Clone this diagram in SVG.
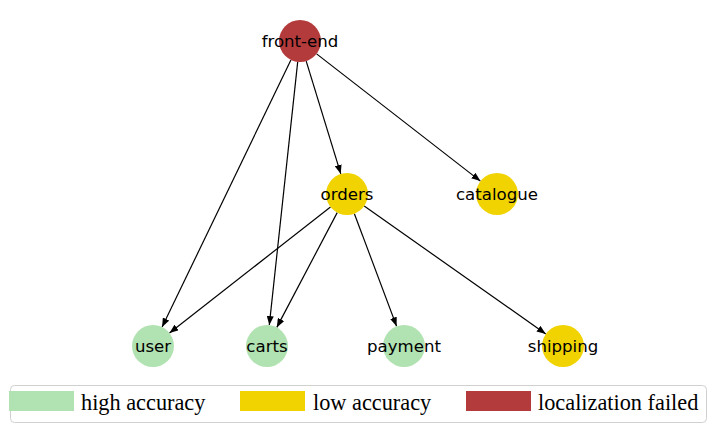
<svg xmlns="http://www.w3.org/2000/svg" width="716" height="433" viewBox="0 0 716 433">
<style>
.e{stroke:#000;stroke-width:1.2;fill:none;marker-end:url(#ah)}
.lbl{font-family:"DejaVu Sans",sans-serif;font-size:16.6px;fill:#000;text-anchor:middle;dominant-baseline:central}
.leg{font-family:"Liberation Serif",serif;font-size:22.3px;fill:#000}
.hi{fill:#b1e2b1}.lo{fill:#f0d300}.fail{fill:#b43b3c}
</style>
<defs>
<marker id="ah" markerUnits="userSpaceOnUse" markerWidth="9" markerHeight="7" refX="9" refY="3.5" orient="auto">
<path d="M0,0 L9,3.5 L0,7 z" fill="#000"/>
</marker>
</defs>
<rect width="716" height="433" fill="#fff"/>
<g id="connectors">
<line class="e" x1="290.9" y1="59.9" x2="162.1" y2="327.1"/>
<line class="e" x1="297.7" y1="61.9" x2="269.3" y2="325.1"/>
<line class="e" x1="306.2" y1="61.1" x2="340.8" y2="173.9"/>
<line class="e" x1="316.6" y1="53.9" x2="480.4" y2="181.1"/>
<line class="e" x1="330.5" y1="207" x2="169.5" y2="333"/>
<line class="e" x1="337.2" y1="212.6" x2="276.8" y2="327.4"/>
<line class="e" x1="354.4" y1="213.7" x2="396.6" y2="326.3"/>
<line class="e" x1="364.2" y1="206.1" x2="545.8" y2="333.9"/>
</g>
<g id="front-end"><circle class="fail" cx="300" cy="41" r="21"/><text class="lbl" x="300" y="41">front-end</text></g>
<g id="orders"><circle class="lo" cx="347" cy="194" r="21"/><text class="lbl" x="347" y="194">orders</text></g>
<g id="catalogue"><circle class="lo" cx="497" cy="194" r="21"/><text class="lbl" x="497" y="194">catalogue</text></g>
<g id="user"><circle class="hi" cx="153" cy="346" r="21"/><text class="lbl" x="153" y="346">user</text></g>
<g id="carts"><circle class="hi" cx="267" cy="346" r="21"/><text class="lbl" x="267" y="346">carts</text></g>
<g id="payment"><circle class="hi" cx="404" cy="346" r="21"/><text class="lbl" x="404" y="346">payment</text></g>
<g id="shipping"><circle class="lo" cx="563" cy="346" r="21"/><text class="lbl" x="563" y="346">shipping</text></g>
<g id="legend">
<rect x="10.5" y="385.5" width="696" height="37" rx="4" fill="#fff" stroke="#d0d0d0" stroke-width="1"/>
<rect class="hi" x="9" y="391" width="65" height="20"/>
<text class="leg" x="81" y="410">high accuracy</text>
<rect class="lo" x="240" y="391" width="65" height="20"/>
<text class="leg" x="313" y="410">low accuracy</text>
<rect class="fail" x="466" y="391" width="65" height="20"/>
<text class="leg" x="538" y="410">localization failed</text>
</g>
</svg>
